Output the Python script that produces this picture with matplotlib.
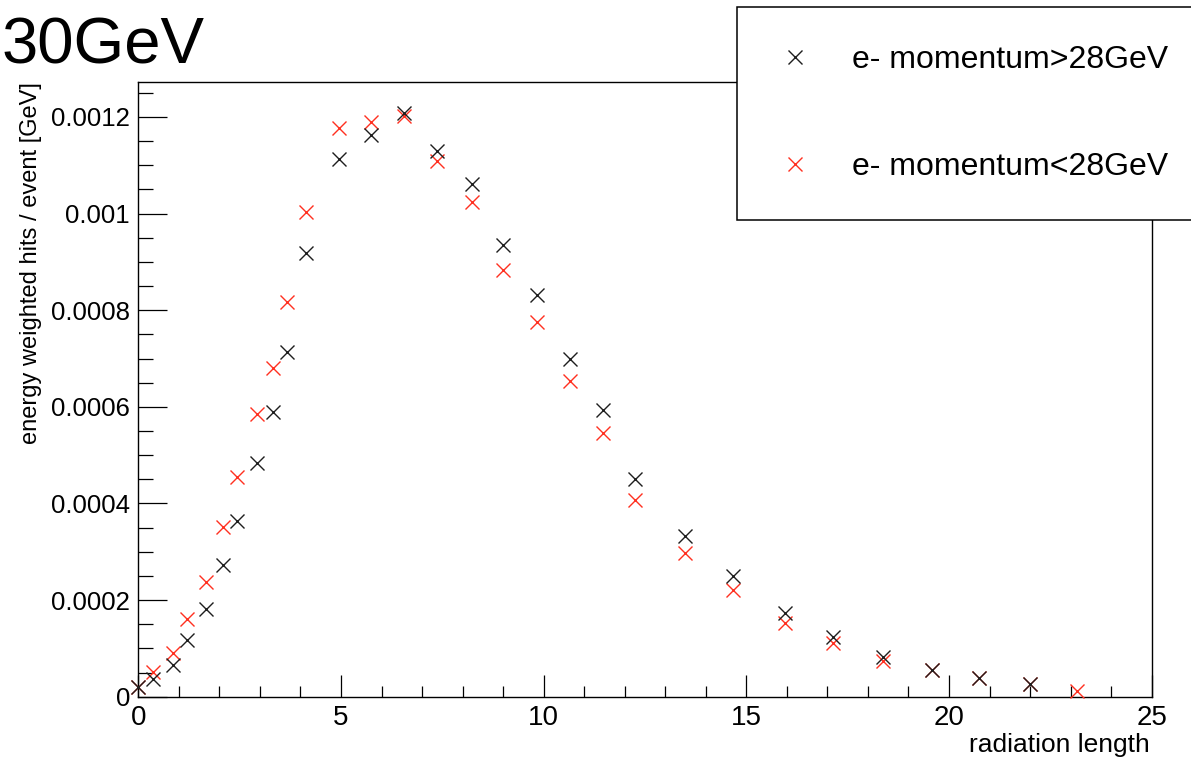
import matplotlib
matplotlib.use("Agg")
import matplotlib.pyplot as plt
from matplotlib.ticker import MultipleLocator, FuncFormatter

# radiation length of each layer
x_above = [0.0, 0.37, 0.85, 1.21, 1.67, 2.10, 2.44, 2.92, 3.32, 3.68, 4.14,
           4.96, 5.73, 6.55, 7.38, 8.22, 8.99, 9.83, 10.65, 11.47, 12.25,
           13.49, 14.67, 15.95, 17.13, 18.38, 19.57, 20.74, 22.0]
y_above = [0.0000207, 0.0000367, 0.0000657, 0.0001174, 0.0001816, 0.0002728,
           0.0003645, 0.0004846, 0.000589, 0.0007145, 0.0009183, 0.001113,
           0.001163, 0.001208, 0.001129, 0.001062, 0.0009355, 0.000832,
           0.000699, 0.000594, 0.00045, 0.000333, 0.000249, 0.000173,
           0.000123, 0.0000828, 0.0000553, 0.0000381, 0.0000257]

x_below = [0.0, 0.37, 0.85, 1.21, 1.67, 2.10, 2.44, 2.92, 3.32, 3.68, 4.14,
           4.96, 5.73, 6.55, 7.38, 8.22, 8.99, 9.83, 10.65, 11.47, 12.25,
           13.49, 14.67, 15.95, 17.13, 18.38, 19.57, 20.74, 22.0, 23.16]
y_below = [0.0000207, 0.0000512, 0.0000911, 0.0001603, 0.0002382, 0.0003508,
           0.0004544, 0.000585, 0.00068, 0.000818, 0.001004, 0.001178,
           0.001189, 0.001203, 0.001108, 0.001025, 0.000884, 0.000775,
           0.000654, 0.000546, 0.000407, 0.000298, 0.000221, 0.000152,
           0.000111, 0.0000746, 0.0000553, 0.0000381, 0.0000257, 0.0000124]

label_above = "e- momentum>28GeV"
label_below = "e- momentum<28GeV"

plt.rcParams["font.family"] = ["Liberation Sans", "DejaVu Sans"]

W, H = 1191, 764
fig = plt.figure(figsize=(W / 100, H / 100), dpi=100)
left, right, top, bottom = 138.3, 1151.7, 81.7, 696.7
ax = fig.add_axes([left / W, 1 - bottom / H, (right - left) / W, (bottom - top) / H])

red = "#ff3020"
dark = "#1e1e1e"
h_below, = ax.plot(x_below, y_below, linestyle="none", marker="x", markersize=10,
                   markeredgewidth=1.0, color=red, clip_on=False, zorder=3)
h_above, = ax.plot(x_above, y_above, linestyle="none", marker="x", markersize=10,
                   markeredgewidth=1.0, color=dark, clip_on=False, zorder=4)

ax.set_xlim(0, 25)
ax.set_ylim(0, 0.001273)

ax.xaxis.set_major_locator(MultipleLocator(5))
ax.xaxis.set_minor_locator(MultipleLocator(1))
ax.yaxis.set_major_locator(MultipleLocator(0.0002))
ax.yaxis.set_minor_locator(MultipleLocator(0.00005))
fmt = FuncFormatter(lambda v, p: "%g" % round(v, 6))
ax.xaxis.set_major_formatter(fmt)
ax.yaxis.set_major_formatter(fmt)

ax.tick_params(axis="x", which="major", direction="in", length=15.8, width=0.9,
               labelsize=20, pad=6, colors="black")
ax.tick_params(axis="x", which="minor", direction="in", length=7.9, width=0.9)
ax.tick_params(axis="y", which="major", direction="in", length=21, width=0.9,
               labelsize=18.5, pad=6, colors="black")
ax.tick_params(axis="y", which="minor", direction="in", length=10.8, width=0.9)
ax.tick_params(top=False, right=False, which="both")
for s in ax.spines.values():
    s.set_linewidth(1.0)
    s.set_color("black")

fig.text(2 / W, 1 - 63 / H, "30GeV", fontsize=47, ha="left", va="baseline")
fig.text(31 / W, 1 - 82 / H, "energy weighted hits / event [GeV]", fontsize=17,
         rotation=90, ha="center", va="top")
fig.text(1150 / W, 1 - 757 / H, "radiation length", fontsize=19,
         ha="right", va="bottom")

leg_top = 1 - 7 / H
leg = fig.legend([h_above, h_below], [label_above, label_below],
                 loc="upper left", bbox_to_anchor=(737 / W, leg_top - 0.3, 0.45, 0.3),
                 mode="expand", borderaxespad=0, fontsize=23, numpoints=1,
                 labelspacing=2.4, borderpad=1.2, handlelength=1.2,
                 handletextpad=1.2, frameon=True, fancybox=False,
                 framealpha=1, edgecolor="black")
leg.get_frame().set_linewidth(1.1)

fig.savefig("out.png", dpi=100)
